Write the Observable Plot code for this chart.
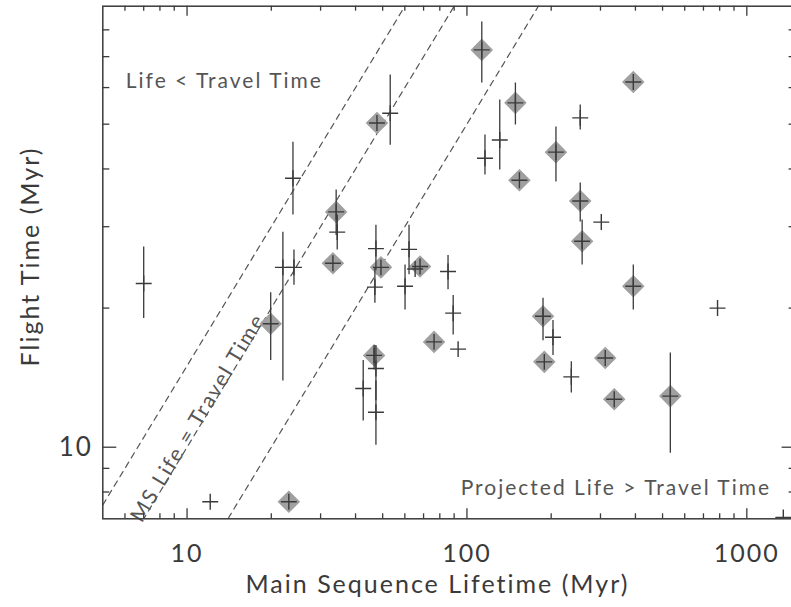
<!DOCTYPE html>
<html>
<head>
<meta charset="utf-8">
<script src="https://cdn.jsdelivr.net/npm/d3@7"></script>
<script src="https://cdn.jsdelivr.net/npm/@observablehq/plot@0.6"></script>
<style>
  html, body { margin: 0; padding: 0; background: #fff; }
  #chart svg { display: block; }
</style>
</head>
<body>
<div id="chart"></div>
<script>
// Stars marked with a grey diamond: main-sequence lifetime (Myr), flight time (Myr), flight-time range
const diamondLife   = [113, 393, 149, 47.7, 208, 154, 34.1, 254, 258, 33.2, 49.3, 68.0, 393, 19.9, 187, 76.3, 46.6, 189, 312, 336, 533, 23.1];
const diamondFlight = [72.4, 61.7, 55.6, 50.3, 43.5, 37.8, 32.3, 34.1, 27.9, 25.0, 24.5, 24.6, 22.3, 18.5, 19.2, 16.9, 15.8, 15.3, 15.6, 12.7, 12.9, 7.62];
const diamondLow    = [61.4, null, 49.8, null, 37.5, null, 28.7, 30.7, 24.8, null, null, null, 19.8, 15.4, 17.0, null, 14.7, null, null, null, 9.7, null];
const diamondHigh   = [83.2, null, 61.4, null, 49.3, null, 36.0, 37.3, 31.0, null, null, null, 24.8, 21.6, 21.0, null, 16.6, null, null, null, 16.0, null];

// Remaining stars, drawn with a cross only
const plainLife   = [7.0, 12.1, 23.9, 22.0, 24.1, 34.4, 47.3, 46.9, 47.3, 42.6, 47.3, 62.1, 65.3, 60.1, 85.6, 89.3, 93.0, 116, 131, 254, 302, 203, 236, 786, 1350, 53.2];
const plainFlight = [22.6, 7.62, 38.2, 24.5, 24.5, 29.2, 26.9, 22.2, 14.8, 13.4, 11.9, 26.8, 24.3, 22.3, 24.0, 19.5, 16.3, 42.2, 46.2, 51.6, 30.7, 17.3, 14.2, 20.0, 7.05, 52.8];
const plainLow    = [19.0, null, 31.8, 13.9, 22.4, 26.7, 24.1, 20.5, 12.6, 11.4, 10.1, 23.6, null, 19.8, 21.9, 17.5, null, 38.8, 39.8, 48.6, null, 15.8, 13.1, null, null, 45.0];
const plainHigh   = [27.1, null, 45.7, 29.2, 26.7, 31.8, 30.2, 24.4, 16.6, 15.4, 13.9, 30.2, null, 24.8, 26.0, 21.3, null, 47.4, 56.4, 55.0, null, 18.8, 15.3, null, null, 63.9];

// Reference lines: flight time = ratio x lifetime
const lineRatios = [1.5, 1, 0.5];

// Axis ticks
const xDomain = [5, 1500];
const yDomain = [7, 90];
const xMajorTicks = [10, 100, 1000];
const xMinorTicks = [6, 7, 8, 9, 20, 30, 40, 50, 60, 70, 80, 90, 200, 300, 400, 500, 600, 700, 800, 900];
const yMajorTicks = [10];
const yMinorTicks = [8, 9, 20, 30, 40, 50, 60, 70, 80];

const xTitle = "Main Sequence Lifetime (Myr)";
const yTitle = "Flight Time (Myr)";
const noteUpper = "Life < Travel Time";
const noteLower = "Projected Life > Travel Time";
const noteLine = "MS Life = Travel Time";

// Build tables
const diamonds = diamondLife.map((x, i) => ({x, y: diamondFlight[i], lo: diamondLow[i], hi: diamondHigh[i]}));
const plains = plainLife.map((x, i) => ({x, y: plainFlight[i], lo: plainLow[i], hi: plainHigh[i]}));
const allStars = diamonds.concat(plains);
const bars = allStars.filter(d => d.lo != null);
const refLines = lineRatios.flatMap(k => xDomain.map(x => ({k, x, y: k * x})));

// Layout
const W = 791, H = 607;
const mL = 102.3, mT = 5.7, mB = 88.7, mR = -4.6;
const frameW = W - mL - mR, frameH = H - mT - mB;
const ink = "#3a3a3a";
const soft = "#555";
const font = "Lato, 'Open Sans', sans-serif";

const inward = (vals, len, side) => side === "bottom" || side === "top"
  ? Plot.tickX(vals, {x: d => d, stroke: ink, strokeWidth: 1.3, [side === "bottom" ? "insetTop" : "insetBottom"]: frameH - len})
  : Plot.tickY(vals, {y: d => d, stroke: ink, strokeWidth: 1.3, [side === "left" ? "insetRight" : "insetLeft"]: frameW - len});

const note = (txt, opts) => Plot.text([txt], {text: d => d, lineAnchor: "middle", fontSize: 21, fill: soft, ...opts});

const chart = Plot.plot({
  width: W,
  height: H,
  marginLeft: mL,
  marginTop: mT,
  marginBottom: mB,
  marginRight: mR,
  style: {fontFamily: font, color: ink, background: "#fff", overflow: "hidden", letterSpacing: "2px"},
  x: {type: "log", domain: xDomain},
  y: {type: "log", domain: yDomain},
  marks: [
    // reference ratio lines
    Plot.line(refLines, {x: "x", y: "y", z: "k", stroke: soft, strokeWidth: 1.2, strokeDasharray: "6,5", clip: true}),
    // annotations
    note(noteUpper, {frameAnchor: "top-left", dx: 23, dy: 75.5, textAnchor: "start"}),
    note(noteLower, {frameAnchor: "bottom-right", dx: -25, dy: -31, textAnchor: "end"}),
    note(noteLine, {x: [11.4], y: [11.4], rotate: -58.8, dx: -5, dy: -3}),
    // diamonds
    Plot.dot(diamonds, {x: "x", y: "y", symbol: "square", rotate: 45, r: 9, fill: "#a0a0a0", stroke: "none", clip: true}),
    // flight-time ranges
    Plot.ruleX(bars, {x: "x", y1: "lo", y2: "hi", stroke: ink, strokeWidth: 1.3, clip: true}),
    // crosses for every star
    Plot.dot(allStars, {x: "x", y: "y", symbol: "plus", r: 5.2, stroke: ink, strokeWidth: 1.4, clip: true}),
    // frame and inward ticks
    Plot.frame({stroke: ink, strokeWidth: 1.5}),
    inward(xMajorTicks, 10, "bottom"), inward(xMinorTicks, 5, "bottom"),
    inward(xMajorTicks, 10, "top"), inward(xMinorTicks, 5, "top"),
    inward(yMajorTicks, 14, "left"), inward(yMinorTicks, 7, "left"),
    inward(yMajorTicks, 14, "right"), inward(yMinorTicks, 7, "right"),
    // tick labels
    Plot.axisX({ticks: xMajorTicks, tickSize: 0, tickPadding: 25, tickFormat: d => String(d), fontSize: 25, label: null}),
    Plot.axisY({ticks: yMajorTicks, tickSize: 0, tickPadding: 10, tickFormat: d => String(d), fontSize: 26, label: null}),
    // axis titles
    Plot.text([xTitle], {text: d => d, frameAnchor: "bottom", lineAnchor: "middle", textAnchor: "middle", dx: -12, dy: 66, fontSize: 25, fill: ink}),
    Plot.text([yTitle], {text: d => d, frameAnchor: "left", lineAnchor: "middle", textAnchor: "middle", dx: -72, dy: -6, rotate: -90, fontSize: 25, fill: ink})
  ]
});

document.getElementById("chart").appendChild(chart);
</script>
</body>
</html>
